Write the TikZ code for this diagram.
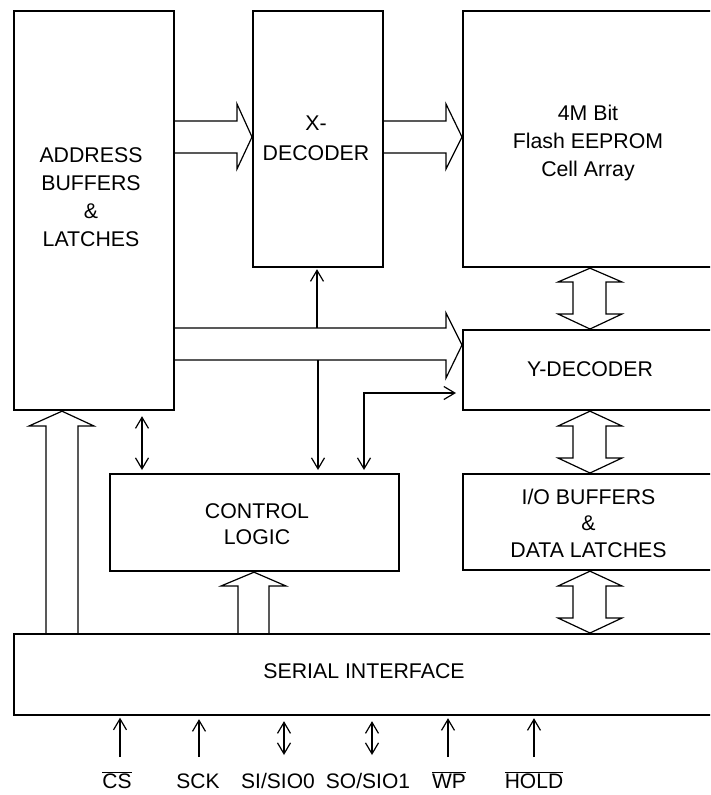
\documentclass[tikz,border=0pt]{standalone}
\usepackage{fontspec}
\setmainfont{Liberation Sans}
\usetikzlibrary{arrows.meta,calc}
\newcommand\ovl[1]{\ensuremath{\overline{\hbox{#1}}}}
\begin{document}
\begin{tikzpicture}[x=1pt,y=-1pt,
  blk/.style={draw, line width=2.2pt, rectangle, inner sep=0pt, anchor=north west},
  txt/.style={align=center, inner sep=0pt, font=\fontsize{21.3}{28}\selectfont},
  txts/.style={align=center, inner sep=0pt, font=\fontsize{21.3}{26.5}\selectfont},
  bus/.style={line width=1.2pt, line join=miter},
  sig/.style={line width=1.2pt, -{Straight Barb[length=11pt,width=13pt,line width=1.2pt]}},
  sigb/.style={line width=1.2pt, {Straight Barb[length=11pt,width=13pt,line width=1.2pt]}-{Straight Barb[length=11pt,width=13pt,line width=1.2pt]}},
  lbl/.style={anchor=base, inner sep=0pt, font=\fontsize{21}{25}\selectfont}]
\useasboundingbox (0,0) rectangle (710,795);
\clip (0,0) rectangle (710,795);

% blocks
\node[blk, minimum width=160pt, minimum height=399.5pt] (addr) at (13,9.5) {};
\node[blk, minimum width=130pt, minimum height=256.5pt] (xdec) at (252,9.5) {};
\node[blk, minimum width=254pt, minimum height=256.5pt] (flash) at (462,9.5) {};
\node[blk, minimum width=254pt, minimum height=80pt] (ydec) at (462,329) {};
\node[blk, minimum width=254pt, minimum height=96pt] (io) at (462,473) {};
\node[blk, minimum width=289pt, minimum height=97pt] (ctrl) at (109,473) {};
\node[blk, minimum width=703pt, minimum height=81pt] (serial) at (13,633) {};

% texts
\node[txt] (addrt) at (91,197.5) {ADDRESS\\BUFFERS\\\&\\LATCHES};
\node[txt, font=\fontsize{21.3}{30}\selectfont] (xdect) at (316,138) {X-\\DECODER};
\node[txt] (flasht) at (588,143) {4M Bit\\Flash EEPROM\\Cell Array};
\node[txt] (ydect) at (590,369) {Y-DECODER};
\node[txts] (ctrlt) at (257,524) {CONTROL\\LOGIC};
\node[txts] (iot) at (588.5,523) {I/O BUFFERS\\\&\\DATA LATCHES};
\node[txt] (serialt) at (364,671) {SERIAL INTERFACE};

% hollow bus arrows
\draw[bus] (addr.east |- 0,121) -- (237,121) -- (237,104) -- (xdec.west |- 0,137)
  -- (237,169) -- (237,153) -- (addr.east |- 0,153);
\draw[bus] (xdec.east |- 0,121) -- (446,121) -- (446,104) -- (flash.west |- 0,137)
  -- (446,169) -- (446,153) -- (xdec.east |- 0,153);
\draw[bus] (addr.east |- 0,328) -- (446,328) -- (446,313) -- (ydec.west |- 0,345)
  -- (446,378) -- (446,360) -- (addr.east |- 0,360);

\draw[bus] (558,282) -- (590,0 |- flash.south) -- (622,282) -- (606,282) -- (606,314)
  -- (622,314) -- (590,0 |- ydec.north) -- (558,314) -- (573,314) -- (573,282) -- cycle;
\draw[bus] (558,426) -- (590,0 |- ydec.south) -- (622,426) -- (606,426) -- (606,458)
  -- (622,458) -- (590,0 |- io.north) -- (558,458) -- (573,458) -- (573,426) -- cycle;
\draw[bus] (558,586) -- (590,0 |- io.south) -- (622,586) -- (606,586) -- (606,618)
  -- (622,618) -- (590,0 |- serial.north) -- (558,618) -- (573,618) -- (573,586) -- cycle;

\draw[bus] (46,0 |- serial.north) -- (46,426) -- (29,426) -- (62,0 |- addr.south)
  -- (94,426) -- (78,426) -- (78,0 |- serial.north);
\draw[bus] (238,0 |- serial.north) -- (238,586) -- (221,586) -- (254,0 |- ctrl.south)
  -- (286,586) -- (269,586) -- (269,0 |- serial.north);

% thin control arrows
\coordinate (bt) at (317,328);
\coordinate (bb) at (318,360);
\draw[sig, shorten >=1pt] (bt) -- (bt |- xdec.south);
\draw[sig, shorten >=3pt] (bb) -- (bb |- ctrl.north);
\draw[sigb, shorten <=3pt, shorten >=6pt] (364,0 |- ctrl.north) |- (ydec.west |- 0,393);
\draw[sigb, shorten <=5pt, shorten >=3pt] (142,0 |- addr.south) -- (142,0 |- ctrl.north);

% signal pins
\coordinate (pcs) at (120,757);
\coordinate (psck) at (199,757);
\coordinate (psi) at (284,755);
\coordinate (pso) at (372,755);
\coordinate (pwp) at (448,757);
\coordinate (phold) at (534,757);
\draw[sig, shorten >=1.5pt] (pcs) -- (pcs |- serial.south);
\draw[sig, shorten >=3pt] (psck) -- (psck |- serial.south);
\draw[sigb, shorten >=5pt] (psi) -- (psi |- serial.south);
\draw[sigb, shorten >=5pt] (pso) -- (pso |- serial.south);
\draw[sig, shorten >=2pt] (pwp) -- (pwp |- serial.south);
\draw[sig, shorten >=2pt] (phold) -- (phold |- serial.south);

\node[lbl] (lcs) at (117,788) {\ovl{CS}};
\node[lbl] (lsck) at (198,788) {SCK};
\node[lbl] (lsi) at (278,788) {SI/SIO0};
\node[lbl] (lso) at (368,788) {SO/SIO1};
\node[lbl] (lwp) at (449,788) {\ovl{WP}};
\node[lbl] (lhold) at (534,788) {\ovl{HOLD}};
\end{tikzpicture}
\end{document}
